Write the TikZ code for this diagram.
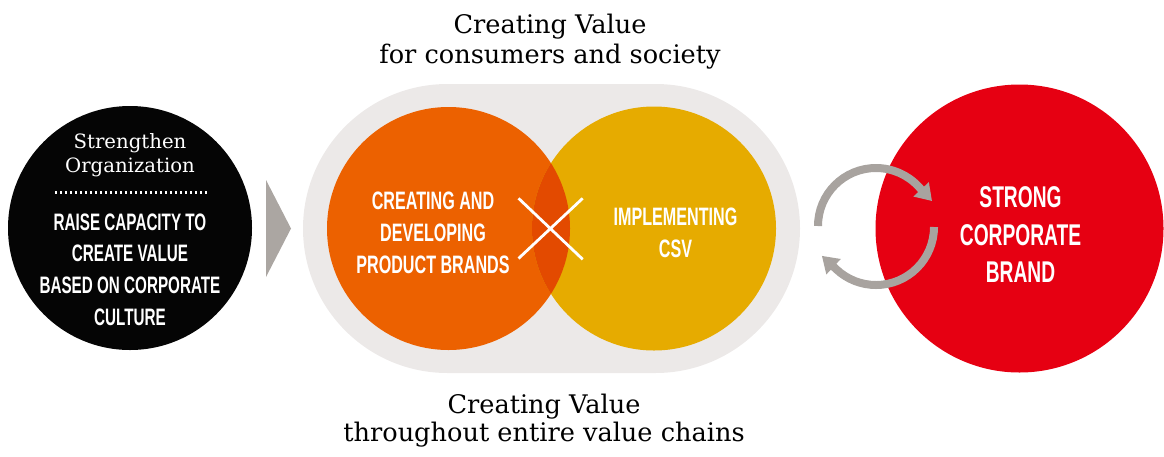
\documentclass[tikz,border=0pt]{standalone}
\usepackage{fontspec}
\usetikzlibrary{arrows.meta}
\newfontfamily\dinfont{Liberation Sans}[FakeStretch=0.64]
\newfontfamily\serifa{DejaVu Serif}
\definecolor{cblack}{HTML}{050505}
\definecolor{ctri}{HTML}{ABA6A2}
\definecolor{cpill}{HTML}{ECE9E8}
\definecolor{corange}{HTML}{EC6100}
\definecolor{cyellow}{HTML}{E6AB00}
\definecolor{covl}{HTML}{E34A00}
\definecolor{cred}{HTML}{E60012}
\definecolor{carrow}{HTML}{A8A39F}
\tikzset{
  title/.style={font=\serifa\fontsize{25.6}{30}\selectfont, text=black, inner sep=0pt, anchor=base},
  subt/.style={font=\serifa\fontsize{19.7}{24}\selectfont, text=white, inner sep=0pt, anchor=base},
  capsA/.style={font=\dinfont\bfseries\fontsize{23.8}{30}\selectfont, text=white, inner sep=0pt, anchor=base},
  capsB/.style={font=\dinfont\bfseries\fontsize{25.2}{30}\selectfont, text=white, inner sep=0pt, anchor=base},
  capsC/.style={font=\dinfont\bfseries\fontsize{30}{36}\selectfont, text=white, inner sep=0pt, anchor=base},
  cyc/.style={draw=carrow, line width=8pt, -{Triangle[length=16pt,width=20pt]}},
  disc/.style={circle, inner sep=0pt, draw=none},
}
\begin{document}
\begin{tikzpicture}[x=1pt,y=-1pt]
\useasboundingbox (0,0) rectangle (1164,456);
% left black circle
\node[disc, fill=cblack, minimum size=244pt] (org) at (130,228) {};
\node[subt] (s1) at (130,148) {Strengthen};
\node[subt] (s2) at (130,172) {Organization};
\coordinate (dl) at (55,192.5);
\coordinate (dr) at (207,192.5);
\draw[white, line width=2.2pt, dash pattern=on 2.2pt off 2.8pt] (dl) -- (dr);
\node[capsA] (b1) at (130,230) {RAISE CAPACITY TO};
\node[capsA] (b2) at (130,261.5) {CREATE VALUE};
\node[capsA] (b3) at (130,293.3) {BASED ON CORPORATE};
\node[capsA] (b4) at (130,325.2) {CULTURE};
% triangle
\fill[ctri] (266,180) -- (291,228.5) -- (266,277) -- cycle;
% pill
\fill[cpill, rounded corners=144.5pt] (303,84) rectangle (800,373);
% venn
\node[disc, fill=corange, minimum size=243pt] (po) at (448.5,228.5) {};
\node[disc, fill=cyellow, minimum size=244pt] (py) at (654,228.5) {};
\begin{scope}
  \clip (448.5,228.5) circle[radius=121.5pt];
  \fill[covl] (654,228.5) circle[radius=122pt];
\end{scope}
\coordinate (x1) at (518.5,198.3);
\coordinate (x2) at (582.7,259.3);
\coordinate (x3) at (518.5,258.5);
\coordinate (x4) at (582.7,198.3);
\draw[white, line width=2.8pt] (x1) -- (x2) (x3) -- (x4);
\node[capsB] (o1) at (433,209.7) {CREATING AND};
\node[capsB] (o2) at (433,241.5) {DEVELOPING};
\node[capsB] (o3) at (433,273.2) {PRODUCT BRANDS};
\node[capsB] (y1) at (675.5,225.7) {IMPLEMENTING};
\node[capsB] (y2) at (675.5,257.2) {CSV};
% red circle
\node[disc, fill=cred, minimum size=288pt] (rb) at (1019.5,228.5) {};
\node[capsC] (r1) at (1020.5,207.5) {STRONG};
\node[capsC] (r2) at (1020.5,245) {CORPORATE};
\node[capsC] (r3) at (1020.5,282.5) {BRAND};
% cycle arrows
\coordinate (cu) at (818,226);
\coordinate (cl) at (934,227);
\draw[cyc] (cu) arc[start angle=180, end angle=43, radius=58pt] -- ++(13.6pt,-14.6pt);
\draw[cyc] (cl) arc[start angle=0, end angle=-133, radius=58pt] -- ++(-14.6pt,13.6pt);
% titles
\node[title] (t1) at (550,33) {Creating Value};
\node[title] (t2) at (550,63) {for consumers and society};
\node[title] (t3) at (544,413) {Creating Value};
\node[title] (t4) at (544,441) {throughout entire value chains};
\end{tikzpicture}
\end{document}
